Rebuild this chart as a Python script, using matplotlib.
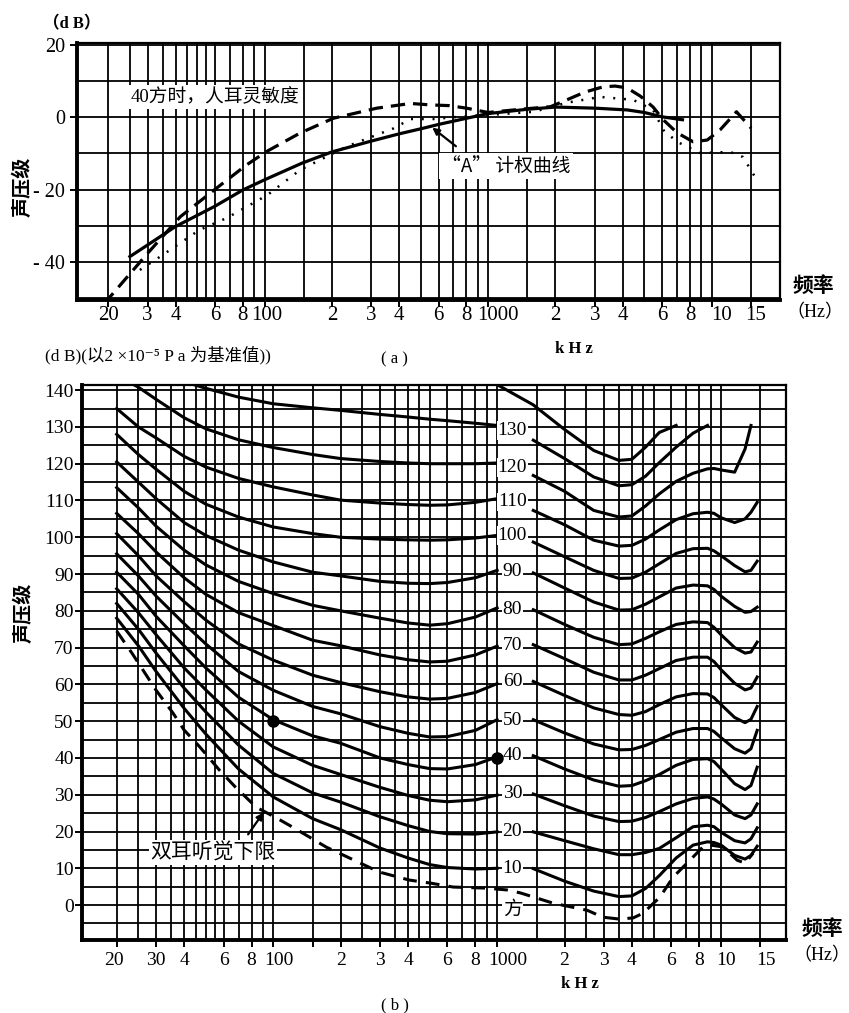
import numpy as np
import matplotlib
matplotlib.use('Agg')
import matplotlib.pyplot as plt
from matplotlib.transforms import offset_copy

SERIF = ['Liberation Serif', 'Noto Sans CJK SC', 'DejaVu Sans']
CJK = ['Noto Sans CJK SC', 'Liberation Serif', 'DejaVu Sans']
plt.rcParams['font.family'] = SERIF

nan = np.nan

# ---------------- (a) ----------------
# 40 phon sensitivity (dashed)
a_dash_f = [19.5, 20.4, 30, 42, 61, 83, 102, 144, 203, 318, 450, 550, 670, 800, 1000,
            1400, 1900, 2250, 2700, 3270, 3700, 4180, 4800, 5470, 6070, 7000, 8260,
            9550, 10900, 12900, 15000]
a_dash_db = [-52, -49.6, -37.6, -27.5, -19.6, -13.2, -9.5, -4.4, -0.3, 2.5, 3.8, 3.4, 3.2,
             2.5, 1.3, 2.2, 2.9, 4.8, 6.9, 8.4, 8.6, 8.1, 5.8, 2.8, -0.7, -4.3, -6.8,
             -6.3, -3.5, 1.5, -3.0]
# "A" weighting (solid)
a_solid_f = [25, 30, 40, 60, 80, 100, 147, 200, 300, 400, 500, 600, 800, 1000, 1500,
             2000, 3000, 4200, 5000, 6000, 7400]
a_solid_db = [-38.5, -35.3, -30.2, -24.6, -20.1, -17.3, -12.7, -9.6, -6.6, -4.6, -3.2,
              -2.0, -0.3, 1.0, 2.2, 2.8, 2.5, 2.0, 1.3, 0.1, -0.7]
# dotted curve
a_dot_f = [27.7, 34, 51, 68, 103, 144, 233, 377, 450, 570, 800, 1000, 1600, 2250, 3170,
           4450, 5470, 6070, 7000, 8900, 12100, 13800, 15900]
a_dot_db = [-42.2, -38.6, -31.2, -27.8, -21.5, -14.6, -8.1, -3.1, -0.5, -0.5, 0.3, 0.6,
            1.5, 4.0, 5.6, 4.8, 2.0, -3.5, -6.8, -9.9, -9.6, -11.0, -17.3]

a_xticks = [20, 30, 40, 60, 80, 100, 200, 300, 400, 600, 800, 1000, 2000, 3000, 4000,
            6000, 8000, 10000, 15000]
a_xlabels = ['20', '3', '4', '6', '8', '100', '2', '3', '4', '6', '8', '1000', '2', '3',
             '4', '6', '8', '10', '15']
a_grid = [20, 25, 30, 35, 40, 45, 50, 55, 60, 70, 80, 90, 100, 150, 200, 300, 400, 500,
          600, 700, 800, 900, 1000, 1500, 2000, 3000, 4000, 5000, 6000, 7000, 8000, 9000,
          10000, 15000]
a_yticks = [20, 0, -20, -40]
a_ylabels = ['20', '0', '- 20', '- 40']

# ---------------- (b) ----------------
b_left_f = [20, 25, 30, 40, 50, 70, 100, 150, 200, 300, 400, 500, 600, 800, 1000]
l10 = [78, 70.5, 63.5, 53.5, 46.5, 37, 29.4, 23.5, 20.5, 15.5, 12.8, 11, 10.2, 9.8, 10]
l20 = [82, 75, 68.5, 59, 52.5, 43.5, 35.8, 30.5, 28, 24, 21.6, 20, 19.4, 19.3, 19.9]
l30 = [86, 79.5, 73.5, 64.5, 58.5, 50, 43, 38, 35.5, 32, 29.8, 28.5, 28.1, 28.6, 29.9]
l40 = [90.5, 84.5, 78.5, 70.5, 64.5, 56.5, 50.4, 46, 44, 40, 38.2, 37.1, 37, 38.2, 40.3]
l50 = [95.5, 89.5, 84, 76.5, 71, 63.5, 58.4, 54, 52, 48.5, 46.7, 45.7, 45.8, 47.5, 50.4]
l60 = [101, 95, 89.5, 82.5, 77.5, 71, 66.6, 62.5, 60.5, 58, 56.6, 56, 56.2, 57.8, 60.2]
l70 = [106.5, 101, 96, 89, 84.5, 79.5, 76, 72, 70.5, 68, 66.7, 66.1, 66.3, 68, 70.4]
l80 = [113.5, 108, 103, 96.5, 92.5, 88, 84.7, 81.5, 80, 78, 76.7, 76.1, 76.5, 78.3, 80.8]
l90 = [120.5, 115, 110.5, 104, 100.5, 96.5, 93.3, 90.5, 89.5, 88, 87.5, 87.4, 87.7, 89,
       91]
l100 = [128, 122.5, 118.5, 112.5, 109, 105.5, 102.8, 101, 100, 99.5, 99.3, 99.2, 99.3,
        99.8, 100.5]
l110 = [135, 130, 127, 122, 119.1, 116, 113.7, 111.5, 110.1, 109.3, 108.9, 108.7, 108.8,
        109.5, 110.5]
l120 = [144, 140.8, 137.5, 132.5, 129.5, 126.5, 124.4, 122.5, 121.4, 120.6, 120.2, 120,
        120, 120, 120.2]
l130 = [nan, nan, nan, 142.3, 140.5, 138.1, 136.3, 135.2, 134.5, 133.4, 132.7, 132.1,
        131.7, 131, 130.4]

b_right_f = [1000, 1450, 2000, 2700, 3500, 4000, 4600, 5300, 6300, 7500, 8700, 9300,
             10000, 11500, 12800, 13600, 14500]
r_top = [141.5, 136, 129.3, 123.6, 120.9, 121.2, 124.5, 128.5, 130.4,
         nan, nan, nan, nan, nan, nan, nan, nan]
r130 = [nan, 126.4, 121.4, 116.4, 114.0, 114.3, 116.6, 120.3, 124.5, 128.3, 130.4,
        nan, nan, nan, nan, nan, nan]
r120 = [nan, 116.8, 112.5, 107.3, 105.5, 105.8, 108.5, 111.8, 115.2, 117.4, 118.6, 118.7,
        118.3, 117.7, 124.0, 130.4, nan]
r110 = [nan, 107.3, 103.4, 99.2, 97.6, 97.8, 99.5, 102.0, 104.8, 106.4, 106.8, 106.5,
        105.3, 104.0, 105.0, 106.8, 109.5]
r100 = [nan, 98.7, 94.7, 91.0, 88.8, 88.9, 90.5, 92.8, 95.6, 96.9, 97.0, 96.3, 95.0,
        92.3, 90.6, 91.0, 93.5]
r90 = [nan, 90.3, 86.2, 82.4, 80.2, 80.3, 81.8, 83.8, 86.2, 87.0, 86.8, 85.8, 84.0,
       81.2, 79.6, 79.8, 81.0]
r80 = [nan, 80.3, 76.3, 72.8, 70.8, 71.0, 72.5, 74.3, 76.3, 77.0, 76.8, 75.5, 73.5,
       70.0, 68.5, 68.8, 71.5]
r70 = [nan, 70.8, 67.0, 63.3, 61.2, 61.2, 62.5, 64.3, 66.5, 67.4, 67.4, 66.2, 64.0,
       60.3, 58.5, 59.0, 62.0]
r60 = [nan, 60.8, 57.0, 53.6, 51.8, 51.6, 52.6, 54.5, 56.6, 57.5, 57.4, 56.4, 54.5,
       51.0, 49.6, 50.5, 54.0]
r50 = [nan, 50.4, 46.8, 43.8, 42.2, 42.3, 43.4, 45.0, 47.0, 48.0, 48.0, 47.2, 45.5,
       42.5, 41.3, 42.5, 47.5]
r40 = [nan, 40.6, 37.0, 34.0, 32.3, 32.5, 33.8, 35.5, 38.0, 39.6, 39.8, 39.0, 37.0,
       33.0, 31.4, 32.5, 37.5]
r30 = [nan, 30.2, 27.0, 24.2, 22.7, 22.8, 23.8, 25.4, 27.5, 29.0, 29.4, 28.8, 27.5,
       24.5, 23.5, 24.5, 27.5]
r20 = [nan, 19.9, 17.5, 15.3, 13.7, 13.7, 14.3, 15.4, 18.3, 21.3, 21.7, 21.3, 19.8,
       17.5, 16.9, 18.0, 21.0]
r10 = [nan, 9.9, 6.5, 3.8, 2.3, 2.5, 4.5, 8.0, 12.8, 16.3, 17.2, 17.0, 16.3, 13.5,
       12.5, 13.5, 16.0]

# hearing threshold (dashed)
thr_f = [20, 23.4, 30, 35.5, 40, 47, 57.5, 68, 84, 104, 122, 145, 172, 219, 297, 405,
         500, 636, 900, 1110, 1270, 1780, 2520, 2970, 3500, 4050, 4490, 5340, 6110,
         7050, 8300, 9000, 10200, 11800, 12800, 13900]
thr_db = [74.5, 68.5, 58.4, 52.4, 47.6, 43, 36.7, 32, 26.6, 23.6, 21.2, 18.5, 15.8, 12.8,
          9, 6.8, 6, 4.9, 4.6, 4.1, 3.3, 0.5, -1.4, -3.3, -3.8, -3.5, -2.2, 2.2, 7.6,
          11.4, 15.8, 16.3, 15.8, 12.2, 11.4, 14.1]

phon_labels = ['130', '120', '110', '100', '90', '80', '70', '60', '50', '40', '30',
               '20', '10', '方']
phon_label_db = [129.1, 118.9, 109.6, 100.5, 90.8, 80.3, 70.7, 60.7, 50.1, 40.8, 30.3,
                 19.9, 9.9, -1.4]

dot_f = [100, 1000]
dot_db = [50, 40]

b_xticks = [20, 30, 40, 60, 80, 100, 150, 200, 300, 400, 600, 800, 1000, 2000, 3000,
            4000, 6000, 8000, 10000, 15000]
b_xlabels = ['20', '30', '4', '6', '8', '100', '', '2', '3', '4', '6', '8', '1000', '2',
             '3', '4', '6', '8', '10', '15']
b_grid = [20, 25, 30, 35, 40, 45, 50, 55, 60, 70, 80, 90, 100, 150, 200, 250, 300, 350,
          400, 450, 500, 600, 700, 800, 900, 1000, 1500, 2000, 2500, 3000, 3500, 4000,
          4500, 5000, 6000, 7000, 8000, 9000, 10000, 15000]
b_yticks = [140, 130, 120, 110, 100, 90, 80, 70, 60, 50, 40, 30, 20, 10, 0]

W, H = 849, 1013
fig = plt.figure(figsize=(W / 100, H / 100), dpi=100)


def px_axes(l, t, r, b):
    return fig.add_axes([l / W, 1 - b / H, (r - l) / W, (b - t) / H])


def ftext(x, y, s, **kw):
    fig.text(x / W, 1 - y / H, s, ha='center', va='center', **kw)


def style(ax, grid_f, xticks, ystep):
    ax.set_xscale('log')
    ax.set_xticks(xticks, labels=[''] * len(xticks))
    ax.set_xticks(grid_f, minor=True)
    ax.xaxis.set_minor_formatter(plt.NullFormatter())
    lo, hi = ax.get_ylim()
    ax.set_yticks(np.arange(np.ceil(lo / ystep) * ystep, hi, ystep), minor=True)
    ax.grid(True, which='both', color='black', lw=1.3)
    ax.tick_params(which='major', direction='out', length=5, width=1.4, color='black')
    ax.tick_params(which='minor', length=0)
    for side in ['left', 'bottom']:
        ax.spines[side].set_linewidth(2.8)
    for side in ['top', 'right']:
        ax.spines[side].set_linewidth(1.6)
    ax.set_axisbelow(True)


def xlabels(ax, ticks, labels, shifts, dy, size):
    for t, s in zip(ticks, labels):
        tr = offset_copy(ax.get_xaxis_transform(), fig=fig, x=shifts.get(t, 0), y=-dy,
                         units='dots')
        ax.text(t, 0, s, transform=tr, ha='center', va='center', fontsize=size,
                clip_on=False)


# ---- top chart (a) ----
ax1 = px_axes(77, 43, 780, 300)
ax1.set_xlim(14.5, 20200)
ax1.set_ylim(-50.5, 20.5)
style(ax1, a_grid, a_xticks, 10)
ax1.set_yticks(a_yticks, labels=a_ylabels, fontsize=14.5)
xlabels(ax1, a_xticks, a_xlabels, {100: 2, 1000: 10, 10000: 10, 15000: 5}, 15, 15)

ax1.plot(a_dash_f, a_dash_db, color='black', lw=2.3, dashes=(4.5, 2.5))
ax1.plot(a_solid_f, a_solid_db, color='black', lw=2.3)
ax1.plot(a_dot_f, a_dot_db, color='black', lw=1.8, linestyle=(0, (0.8, 3.5)))

box = dict(facecolor='white', edgecolor='none', pad=2)
ax1.text(60, 5.6, '40方时，人耳灵敏度', fontsize=13.5, ha='center', va='center',
         bbox=box, zorder=5)
ax1.text(1204, -13.5, '“A” 计权曲线', fontsize=13.5, ha='center', va='center',
         family=CJK, bbox=box, zorder=5)
ax1.annotate('', xy=(550, -2.4), xytext=(734, -8.5),
             arrowprops=dict(arrowstyle='-|>', color='black', lw=1.6, mutation_scale=10))

# ---- bottom chart (b) ----
ax2 = px_axes(82, 385, 786, 940)
ax2.set_xlim(14.0, 19500)
ax2.set_ylim(-9.5, 141.4)
style(ax2, b_grid, b_xticks, 5)
ax2.set_yticks(b_yticks, labels=[str(v) for v in b_yticks], fontsize=14)
ax2.tick_params(axis='y', which='major', length=5, pad=1)
xlabels(ax2, b_xticks, b_xlabels, {20: -3, 100: 6, 1000: 11, 10000: 5, 15000: 5}, 20, 14)

for lv in [l10, l20, l30, l40, l50, l60, l70, l80, l90, l100, l110, l120, l130]:
    ax2.plot(b_left_f, lv, color='black', lw=2.2)
for rv in [r10, r20, r30, r40, r50, r60, r70, r80, r90, r100, r110, r120, r130, r_top]:
    ax2.plot(b_right_f, rv, color='black', lw=2.2)
ax2.plot(thr_f, thr_db, color='black', lw=2.2, dashes=(4.5, 3))
ax2.plot(dot_f, dot_db, 'o', color='black', ms=8, zorder=6)

lbox = dict(facecolor='white', edgecolor='none', pad=0.5)
for s, v in zip(phon_labels, phon_label_db):
    ax2.text(1170, v, s, fontsize=14, ha='center', va='center', bbox=lbox, zorder=5)

ax2.text(54, 14.4, '双耳听觉下限', fontsize=15, ha='center', va='center', family=CJK,
         bbox=dict(facecolor='white', edgecolor='none', pad=1), zorder=5)
ax2.annotate('', xy=(92, 25.8), xytext=(76, 18.6),
             arrowprops=dict(arrowstyle='-|>', color='black', lw=1.6, mutation_scale=10))

# ---- outer text ----
ftext(72, 24, '（d B）', fontsize=12, weight='bold')
ftext(22, 187, '声压级', fontsize=14.5, weight='bold', family=CJK, rotation=90)
ftext(813, 285, '频率', fontsize=15, weight='bold', family=CJK)
ftext(815, 313, '（Hz）', fontsize=13)
ftext(574, 349, 'k H z', fontsize=12, weight='bold')
ftext(394, 359, '( a )', fontsize=12)
fig.text(45 / W, 1 - 355 / H, '(d B)(以2 ×10⁻⁵ P a 为基准值))', fontsize=12.5,
         ha='left', va='center')

ftext(23, 613, '声压级', fontsize=14.5, weight='bold', family=CJK, rotation=90)
ftext(822, 928, '频率', fontsize=15, weight='bold', family=CJK)
ftext(822, 956, '（Hz）', fontsize=13)
ftext(580, 984, 'k H z', fontsize=12, weight='bold')
ftext(395, 1005, '( b )', fontsize=12)

fig.savefig('out.png', dpi=100)
